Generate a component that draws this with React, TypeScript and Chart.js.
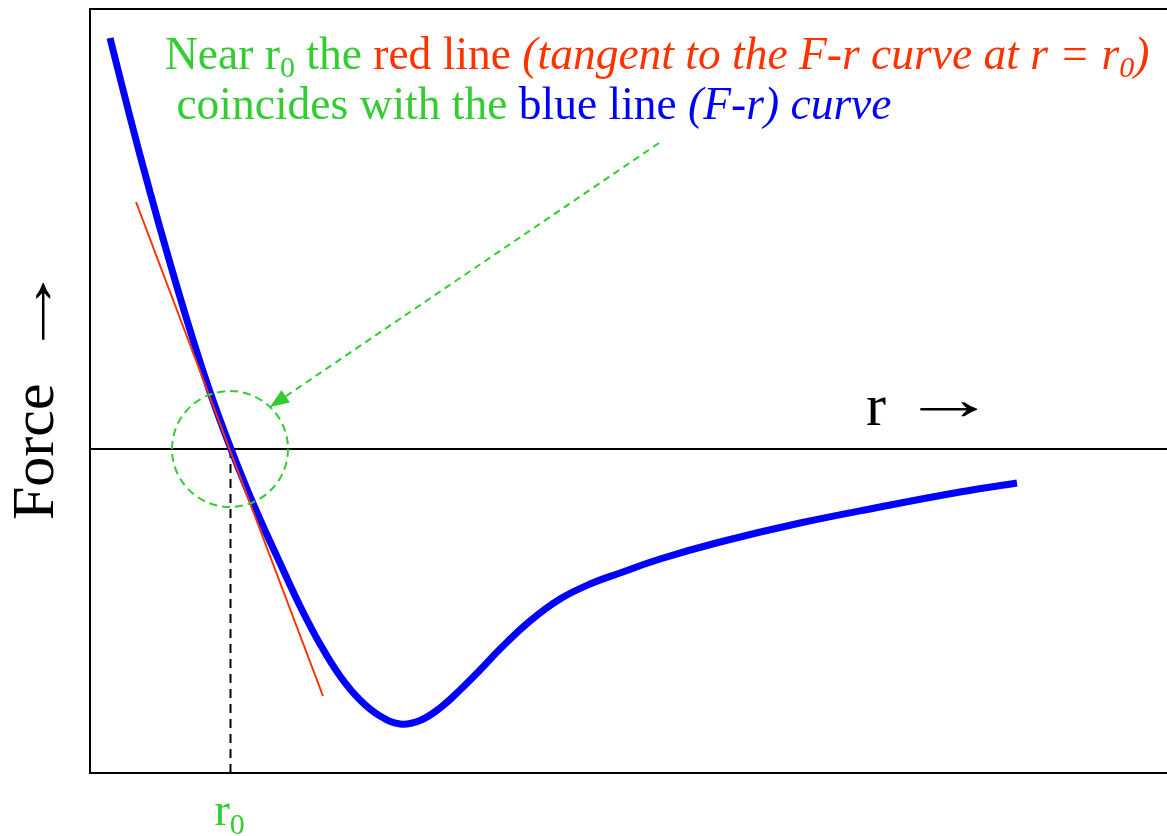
import React, { useEffect, useRef } from "react";
import { Chart, registerables } from "chart.js";

Chart.register(...registerables);

// Distance r (arbitrary units) and force F (arbitrary units) of the F-r curve
const rValues = [2.0, 4.0, 6.0, 8.0, 10.0, 12.0, 14.1, 16.5, 19.0, 21.0, 23.0, 25.0, 27.0, 29.0, 31.0, 33.0, 35.0, 37.0, 39.0, 41.0, 44.0, 47.0, 50.0, 53.0, 57.0, 63.0, 71.0, 79.0, 87.0, 92.7];
const forceValues = [41.1, 33.2, 25.7, 18.6, 11.9, 5.7, 0, -5.9, -11.4, -15.7, -19.5, -22.7, -25.1, -26.7, -27.5, -27.15, -25.9, -24.1, -22.1, -20.0, -17.2, -15.0, -13.5, -12.4, -11.0, -9.3, -7.4, -5.8, -4.3, -3.4];

// Tangent at r = r0
const tangentR = [4.6, 23.3];
const tangentF = [24.7, -24.7];

const r0 = 14.05;
const rRange = [0, 107.7];
const fRange = [-32.4, 44.0];

// Annotation arrow (from text to circle)
const arrowR = [56.9, 18.0];
const arrowF = [30.6, 4.2];

const GREEN = "#33cc33";
const RED = "#ff3300";
const BLUE = "#0000ff";
const FONT = '"Liberation Serif", "Times New Roman", serif';

type Run = { t: string; c: string; it?: boolean; sub?: boolean };

const line1: Run[] = [
  { t: "Near r", c: GREEN },
  { t: "0", c: GREEN, sub: true },
  { t: " the ", c: GREEN },
  { t: "red line ", c: RED },
  { t: "(tangent to the F-r curve at r = r", c: RED, it: true },
  { t: "0", c: RED, it: true, sub: true },
  { t: ")", c: RED, it: true },
];
const line2: Run[] = [
  { t: " coincides with the ", c: GREEN },
  { t: "blue line ", c: BLUE },
  { t: "(F-r) curve", c: BLUE, it: true },
];

function drawRuns(ctx: CanvasRenderingContext2D, x: number, y: number, runs: Run[], size: number, subSize: number, subDy: number) {
  let cx = x;
  for (const r of runs) {
    const s = r.sub ? subSize : size;
    ctx.font = `${r.it ? "italic " : ""}${s}px ${FONT}`;
    ctx.fillStyle = r.c;
    ctx.fillText(r.t, cx, y + (r.sub ? subDy : 0));
    cx += ctx.measureText(r.t).width;
  }
}

function drawArrowGlyph(ctx: CanvasRenderingContext2D, x: number, y: number) {
  ctx.save();
  ctx.translate(x, y);
  ctx.scale(1.6, 1);
  ctx.fillText("\u2192", 0, 0);
  ctx.restore();
}

const decorPlugin = {
  id: "decor",
  beforeDatasetsDraw(chart: any) {
    const { ctx, chartArea, scales } = chart;
    const y0 = scales.y.getPixelForValue(0);
    ctx.save();
    ctx.strokeStyle = "#000";
    ctx.lineWidth = 2;
    ctx.beginPath();
    ctx.moveTo(chartArea.left, y0);
    ctx.lineTo(chartArea.right, y0);
    ctx.stroke();
    ctx.restore();
  },
  afterDatasetsDraw(chart: any) {
    const { ctx, chartArea, scales } = chart;
    const xs = scales.x;
    const ys = scales.y;
    ctx.save();
    // frame
    ctx.strokeStyle = "#000";
    ctx.lineWidth = 2;
    ctx.beginPath();
    ctx.moveTo(chartArea.right + 5, chartArea.top);
    ctx.lineTo(chartArea.left, chartArea.top);
    ctx.lineTo(chartArea.left, chartArea.bottom);
    ctx.lineTo(chartArea.right + 5, chartArea.bottom);
    ctx.stroke();

    // dashed circle around r0
    const cx = xs.getPixelForValue(r0 - 0.05);
    const cy = ys.getPixelForValue(0);
    ctx.strokeStyle = GREEN;
    ctx.lineWidth = 2;
    ctx.setLineDash([8, 5]);
    ctx.beginPath();
    ctx.arc(cx, cy, 58, 0, Math.PI * 2);
    ctx.stroke();
    ctx.setLineDash([]);

    // arrow head
    const x1 = xs.getPixelForValue(arrowR[0]);
    const y1 = ys.getPixelForValue(arrowF[0]);
    const x2 = xs.getPixelForValue(arrowR[1]);
    const y2 = ys.getPixelForValue(arrowF[1]);
    const ang = Math.atan2(y2 - y1, x2 - x1);
    const L = 19;
    const W = 7.5;
    ctx.fillStyle = GREEN;
    ctx.beginPath();
    ctx.moveTo(x2, y2);
    ctx.lineTo(x2 - L * Math.cos(ang) + W * Math.sin(ang), y2 - L * Math.sin(ang) - W * Math.cos(ang));
    ctx.lineTo(x2 - L * Math.cos(ang) - W * Math.sin(ang), y2 - L * Math.sin(ang) + W * Math.cos(ang));
    ctx.closePath();
    ctx.fill();

    // texts
    ctx.textAlign = "left";
    ctx.textBaseline = "alphabetic";
    drawRuns(ctx, 165, 69, line1, 45.5, 30, 8);
    drawRuns(ctx, 165, 119, line2, 45.5, 30, 8);

    // x axis label
    ctx.fillStyle = "#000";
    ctx.font = `60px ${FONT}`;
    ctx.fillText("r", 866, 425);
    drawArrowGlyph(ctx, 901, 419);

    // y axis label
    ctx.save();
    ctx.translate(53, 520);
    ctx.rotate(-Math.PI / 2);
    ctx.fillText("Force", 0, 0);
    drawArrowGlyph(ctx, 161, 0);
    ctx.restore();

    // r0 tick label
    const rx = xs.getPixelForValue(r0);
    drawRuns(ctx, rx - 16, 825, [{ t: "r", c: GREEN }, { t: "0", c: GREEN, sub: true }], 46, 30, 9);
    ctx.restore();
  },
};

export default function App() {
  const ref = useRef<HTMLCanvasElement | null>(null);
  useEffect(() => {
    if (!ref.current) return;
    const chart = new Chart(ref.current, {
      type: "line",
      data: {
        datasets: [
          {
            label: "tangent",
            data: tangentR.map((r, i) => ({ x: r, y: tangentF[i] })),
            borderColor: RED,
            borderWidth: 2,
            pointRadius: 0,
            tension: 0,
            order: 0,
          },
          {
            label: "F-r curve",
            data: rValues.map((r, i) => ({ x: r, y: forceValues[i] })),
            borderColor: BLUE,
            borderWidth: 7,
            pointRadius: 0,
            tension: 0.4,
            borderCapStyle: "butt",
            borderJoinStyle: "round",
            order: 1,
          },
          {
            label: "r0 drop",
            data: [
              { x: r0, y: 0 },
              { x: r0, y: fRange[0] },
            ],
            borderColor: "#000",
            borderWidth: 2,
            borderDash: [9, 6],
            pointRadius: 0,
            order: 2,
          },
          {
            label: "arrow",
            data: arrowR.map((r, i) => ({ x: r, y: arrowF[i] })),
            borderColor: GREEN,
            borderWidth: 2,
            borderDash: [7, 5],
            pointRadius: 0,
            order: 3,
          },
        ],
      },
      options: {
        animation: false,
        responsive: false,
        devicePixelRatio: 1,
        parsing: false as any,
        layout: { padding: { left: 90, top: 9, right: 0, bottom: 63 } },
        plugins: { legend: { display: false }, tooltip: { enabled: false } },
        scales: {
          x: { type: "linear", display: false, min: rRange[0], max: rRange[1] },
          y: { type: "linear", display: false, min: fRange[0], max: fRange[1] },
        },
      },
      plugins: [decorPlugin],
    });
    return () => chart.destroy();
  }, []);
  return (
    <div style={{ position: "fixed", left: 0, top: 0, width: 1167, height: 836, background: "#fff" }}>
      <canvas ref={ref} width={1167} height={836} style={{ width: 1167, height: 836 }} />
    </div>
  );
}
